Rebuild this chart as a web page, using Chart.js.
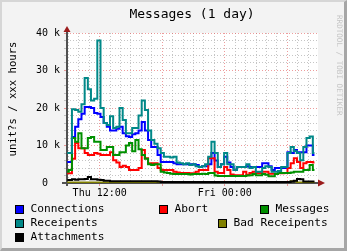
<!DOCTYPE html>
<html><head><meta charset="utf-8">
<script src="https://cdn.jsdelivr.net/npm/chart.js@4/dist/chart.umd.min.js"></script>
<style>
html,body{margin:0;padding:0;}
body{width:347px;height:251px;overflow:hidden;position:relative;background:#f3f3f3;font-family:'DejaVu Sans Mono',monospace;}
#frame{position:absolute;left:0;top:0;width:347px;height:251px;box-sizing:border-box;border-top:2px solid #d6d6d6;border-left:2px solid #d6d6d6;border-right:3px solid #a6a6a6;border-bottom:3px solid #a6a6a6;pointer-events:none;z-index:5;}
canvas{position:absolute;left:0;top:0;}
.t{position:absolute;white-space:nowrap;color:#000;}
#title{left:192px;top:6px;font-size:13px;line-height:16px;transform:translateX(-50%);}
#ylab{left:12px;top:99px;font-size:10.6px;line-height:12px;transform:translate(-50%,-50%) rotate(-90deg);}
#wm{left:344px;top:15px;font-size:7.6px;line-height:9px;color:#c4c4c4;transform-origin:0 0;transform:rotate(90deg);}
.sq{position:absolute;width:9px;height:9px;box-sizing:border-box;border:1px solid #000;}
.lt{position:absolute;font-size:11.2px;line-height:14px;white-space:nowrap;color:#000;}
</style>
</head><body>
<canvas id="c" width="347" height="251"></canvas>
<div id="title" class="t">Messages (1 day)</div>
<div id="ylab" class="t">unit?s / xxx hours</div>
<div id="wm" class="t">RRDTOOL / TOBI OETIKER</div>
<div id="legend"></div>
<div id="frame"></div>
<script>
// sample times in hours since Thu 00:00
const times = [8.88,9.18,9.49,9.79,10.10,10.40,10.71,11.01,11.31,11.62,
11.92,12.23,12.53,12.83,13.14,13.44,13.75,14.05,14.36,14.66,
14.96,15.27,15.57,15.88,16.18,16.49,16.79,17.09,17.40,17.70,
18.01,18.31,18.61,18.92,19.22,19.53,19.83,20.14,20.44,20.74,
21.05,21.35,21.66,21.96,22.26,22.57,22.87,23.18,23.48,23.79,
24.09,24.39,24.70,25.00,25.31,25.61,25.92,26.22,26.52,26.83,
27.13,27.44,27.74,28.04,28.35,28.65,28.96,29.26,29.57,29.87,
30.17,30.48,30.78,31.09,31.39,31.69,32.00,32.30,32.61];

// values in thousands
const connections = [5.6,5.6,12.3,15,17,18.5,20.3,20.3,20,18.7,
18.5,17.6,16,15,14,14,14.5,15,13.3,12.5,
12.3,13,13.3,14,16.3,14,11.5,9.6,9.6,7.5,
5.6,5.6,5.6,5.6,5.3,5,5,5,5,5,
5,4.8,4.3,4.5,4.5,5,8,6,4.3,5,
7,5.5,4.3,3.5,4.3,4.3,4.3,4.5,4.3,4.3,
4.3,4.3,5.3,5.3,4.5,3.5,4,4,4,4,
8.2,8,8.8,8.2,8.2,8.2,10,10,7.5];

const abort = [2.6,2.6,6.5,10.7,9.3,9.3,8,7.5,7.5,8,
7.8,7.5,7.5,7.5,8.2,6.1,5.5,4.3,4.6,4.3,
3.5,3.5,3.5,4,8.8,6.6,5.3,5.3,5.3,4,
3.5,3.5,3.5,3.5,3,2.8,2.7,2.7,2.7,2.6,
2.6,3,3.5,3.5,3.5,6.6,6.6,3,2.7,2.7,
4.3,3.5,2.3,2.1,2.1,2.1,3,2.2,2.7,3,
2.7,2.7,3,3,2.5,2.5,2.5,2.6,2.6,2.7,
4,5.3,6.6,5.6,4,5.3,5.6,5.6,5.5];

const messages = [3,3.5,12,11,13.3,9.3,9.3,12,12.3,11,
11,8.8,8.8,9.6,9.6,7.5,7.5,8.2,8.2,10,
10.7,8.5,11.5,9,7.5,6.5,5,4.8,5,5,
3,2.8,2.7,2.5,2.4,2.4,2.4,2.4,2.4,2.3,
2.4,2.4,2.4,2.5,2.4,2.7,2.7,2,1.9,1.9,
1.9,1.9,1.9,1.9,1.9,1.9,1.9,2,2.1,2.4,
2.1,2.1,2.4,2.2,1.8,1.8,2.4,2.7,2.7,2.7,
2.7,2.8,3,3,3,3.5,3.5,4.8,3.5];

const receipents = [8,8,19.7,19.5,19,21,28,25,22,22.5,
38,20,16,15.5,17.8,14.7,15,20,16.8,13.3,
13.3,14.7,14.7,18,22,19.5,14,11.5,10.5,9.3,
8,7,7,6.8,7,5.5,5.3,5,5.3,4.8,
5,4.5,4.3,4.5,5,7,11,8,4.3,5,
8,5,5,3.5,4.3,4.3,4.3,5,4,4.3,
3,3,4,4.5,4.3,3,3,3.2,4.3,4.3,
8,9.6,8.5,8,6.1,9.6,12,12.4,8];

const badReceipents = [0.15,0.15,0.15,0.15,0.15,0.15,0.15,0.15,0.15,0.15,
0.15,0.15,0.15,0.15,0.15,0.15,0.15,0.15,0.15,0.15,
0.15,0.15,0.15,0.15,0.15,0.15,0.15,0.15,0.15,0.15,
0.15,0.15,0.15,0.15,0.15,0.15,0.15,0.15,0.15,0.15,
0.15,0.15,0.15,0.15,0.15,0.15,0.15,0.15,0.15,0.15,
0.15,0.15,0.15,0.15,0.15,0.15,0.15,0.15,0.15,0.15,
0.15,0.15,0.15,0.15,0.15,0.15,0.15,0.15,0.15,0.15,
0.15,0.5,0.5,0.15,0.15,0.15,0.15,0.15,0.15];

const attachments = [0.8,0.8,1,0.9,1,1,1.1,1.6,1,1,
0.9,0.8,0.6,0.6,0.5,0.5,0.5,0.5,0.5,0.5,
0.5,0.5,0.5,0.5,0.5,0.5,0.5,0.5,0.5,0.4,
0.3,0.3,0.3,0.3,0.3,0.3,0.3,0.3,0.3,0.3,
0.3,0.3,0.3,0.3,0.3,0.3,0.3,0.3,0.3,0.3,
0.3,0.3,0.3,0.3,0.3,0.3,0.3,0.3,0.3,0.3,
0.3,0.3,0.3,0.3,0.3,0.3,0.3,0.3,0.3,0.3,
0.3,0.4,0.6,1.1,1,0.4,0.4,0.4,0.4];

const seriesNames = ['Connections','Abort','Messages','Receipents','Bad Receipents','Attachments'];
const seriesColors = ['#0000ff','#ff0000','#009000','#008888','#808000','#000000'];
const seriesValues = [connections, abort, messages, receipents, badReceipents, attachments];

const yTicks = [0,2,4,6,8,10,12,14,16,18,20,22,24,26,28,30,32,34,36,38,40];
const yMajor = [0,10,20,30,40];
const yLabels = {0:'0  ',10:'10 k',20:'20 k',30:'30 k',40:'40 k'};
const xTicks = [9,10,11,12,13,14,15,16,17,18,19,20,21,22,23,24,25,26,27,28,29,30,31,32];
const xMajor = [12,18,24,30];
const xLabels = {12:'Thu 12:00',24:'Fri 00:00'};

// legend layout
const legendPos = [[15,209],[159,209],[260,209],[15,223],[218,223],[15,237]];
const lg = document.getElementById('legend');
seriesNames.forEach((n,i)=>{
  const [x,y] = legendPos[i];
  const s = document.createElement('div'); s.className='sq';
  s.style.left = x+'px'; s.style.top = (y-4.5)+'px'; s.style.background = seriesColors[i];
  const t = document.createElement('div'); t.className='lt'; t.textContent = n;
  t.style.left = (x+15.5)+'px'; t.style.top = (y-7.5)+'px';
  lg.appendChild(s); lg.appendChild(t);
});

const MINOR = 'rgba(150,150,150,0.55)';
const MAJOR = 'rgba(225,90,90,0.6)';
const FONT = {family:"'DejaVu Sans Mono', monospace", size:10};

const rrdFrame = {
  id:'rrdFrame',
  beforeDraw(c){
    const {ctx, chartArea:a} = c;
    ctx.save(); ctx.fillStyle='#ffffff';
    ctx.fillRect(a.left,a.top,a.right-a.left,a.bottom-a.top);
    ctx.restore();
  },
  beforeDatasetsDraw(c){
    const {ctx, chartArea:a} = c;
    ctx.save();
    ctx.fillStyle='#505050';
    ctx.fillRect(a.left-1, a.top-2, 2, a.bottom-a.top+5);
    ctx.fillRect(a.left-5, a.bottom-1, a.right-a.left+6, 2);
    ctx.fillStyle='#9b1c1c';
    ctx.beginPath();
    ctx.moveTo(a.left-3.5, a.top-1); ctx.lineTo(a.left+3.5, a.top-1); ctx.lineTo(a.left, a.top-7); ctx.closePath(); ctx.fill();
    ctx.beginPath();
    ctx.moveTo(a.right, a.bottom-3.5); ctx.lineTo(a.right, a.bottom+3.5); ctx.lineTo(a.right+7, a.bottom); ctx.closePath(); ctx.fill();
    ctx.restore();
  }
};

const datasets = seriesNames.map((n,i)=>({
  label:n,
  data: times.map((t,j)=>({x:t, y:seriesValues[i][j]})),
  borderColor: seriesColors[i],
  backgroundColor: seriesColors[i],
  borderWidth: 2,
  pointRadius: 0,
  stepped: 'middle',
  fill: false,
  order: seriesNames.length - i
}));

new Chart(document.getElementById('c'), {
  type:'line',
  data:{datasets},
  plugins:[rrdFrame],
  options:{
    responsive:false,
    animation:false,
    layout:{padding:{left:0,right:29,top:33,bottom:48}},
    plugins:{legend:{display:false},tooltip:{enabled:false},title:{display:false}},
    scales:{
      x:{
        type:'linear', min:8.86, max:32.95,
        afterBuildTicks: s => { s.ticks = xTicks.map(v=>({value:v})); },
        afterFit: s => { s.height = 20; },
        ticks:{autoSkip:false, maxRotation:0, minRotation:0, padding:1, color:'#000', font:FONT,
          callback: v => xLabels[v] || ''},
        grid:{color: c => (c.tick && xMajor.includes(c.tick.value)) ? MAJOR : MINOR,
          tickColor: c => (c.tick && xMajor.includes(c.tick.value)) ? MAJOR : 'rgba(0,0,0,0)',
          tickLength:3, lineWidth:1},
        border:{display:false, dash:[1,2]}
      },
      y:{
        type:'linear', min:0, max:40,
        afterBuildTicks: s => { s.ticks = yTicks.map(v=>({value:v})); },
        afterFit: s => { s.width = 67; },
        ticks:{autoSkip:false, padding:4, color:'#000', font:FONT,
          callback: v => yLabels[v] || ''},
        grid:{color: c => (c.tick && yMajor.includes(c.tick.value)) ? MAJOR : MINOR,
          tickColor: c => (c.tick && yMajor.includes(c.tick.value)) ? MAJOR : MINOR,
          tickLength:3, lineWidth:1},
        border:{display:false, dash:[1,2]}
      }
    }
  }
});
</script>
</body></html>
